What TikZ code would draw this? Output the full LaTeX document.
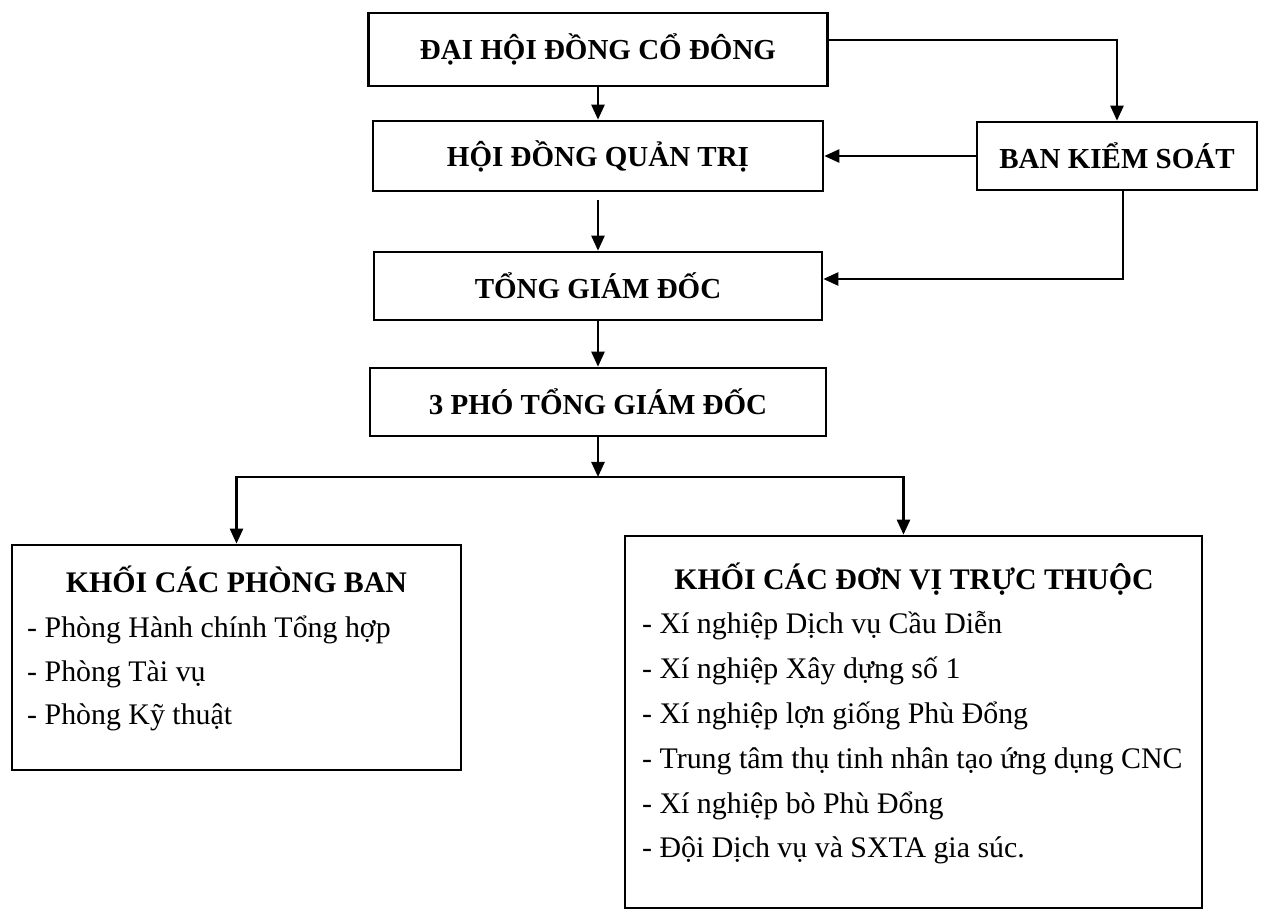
\documentclass[tikz,border=0pt]{standalone}
\usepackage{fontspec}
\setmainfont{Liberation Serif}
\usetikzlibrary{arrows.meta,positioning}

\tikzset{
  hop/.style={draw, line width=1.5pt, inner sep=0pt,
    font=\fontsize{16.5}{20}\selectfont\bfseries},
  khoi/.style={draw, line width=1.5pt, inner sep=0pt},
  tieude/.style={anchor=base, inner sep=0pt,
    font=\fontsize{17}{20}\selectfont\bfseries},
  muc/.style={anchor=base west, inner sep=0pt,
    font=\fontsize{17}{20}\selectfont},
}

\begin{document}
\begin{tikzpicture}[line width=1.4pt, >={Triangle[length=0.3cm,width=0.26cm]}]
    \useasboundingbox (0,0) rectangle (25.3,-18.22);
    % cac cap lanh dao
    \node[hop, minimum width=9.18cm, minimum height=1.46cm] (dhdcd) at (11.96,-0.99) {ĐẠI HỘI ĐỒNG CỔ ĐÔNG};
    \node[hop, minimum width=9.0cm, minimum height=1.4cm] (hdqt) at (11.96,-3.12) {HỘI ĐỒNG QUẢN TRỊ};
    \node[hop, minimum width=5.6cm, minimum height=1.36cm] (bks) at (22.34,-3.12) {BAN KIỂM SOÁT};
    \node[hop, minimum width=8.96cm, minimum height=1.36cm] (tgd) at (11.96,-5.72) {TỔNG GIÁM ĐỐC};
    \node[hop, minimum width=9.12cm, minimum height=1.36cm] (ptgd) at (11.96,-8.04) {3 PHÓ TỔNG GIÁM ĐỐC};
    \coordinate (nhanh) at (11.96,-9.54);
    % khoi cac phong ban
    \node[khoi, minimum width=8.98cm, minimum height=4.5cm] (kpb) at (4.73,-13.15) {};
    \node[tieude] (tdpb) at (4.73,-11.86) {KHỐI CÁC PHÒNG BAN};
    \foreach \ten [count=\i] in {- Phòng Hành chính Tổng hợp, - Phòng Tài vụ, - Phòng Kỹ thuật}
        \node[muc] (pb\i) at (0.52,{-12.76-0.87*(\i-1)}) {\ten};
    % khoi cac don vi truc thuoc
    \node[khoi, minimum width=11.54cm, minimum height=7.44cm] (kdv) at (18.27,-14.44) {};
    \node[tieude] (tddv) at (18.28,-11.8) {KHỐI CÁC ĐƠN VỊ TRỰC THUỘC};
    \foreach \ten [count=\i] in {- Xí nghiệp Dịch vụ Cầu Diễn, - Xí nghiệp Xây dựng số 1,
        - Xí nghiệp lợn giống Phù Đổng, - Trung tâm thụ tinh nhân tạo ứng dụng CNC,
        - Xí nghiệp bò Phù Đổng, - Đội Dịch vụ và SXTA gia súc.}
        \node[muc] (dv\i) at (12.82,{-12.66-0.9*(\i-1)}) {\ten};
    % mui ten
    \draw[->] (dhdcd) -- (hdqt);
    \draw[->] ([yshift=0.19cm]dhdcd.east) -| (bks);
    \draw[->] (bks) -- (hdqt);
    \draw[->] ([xshift=0.12cm]bks.south) |- ([yshift=0.14cm]tgd.east);
    \draw[->, shorten <=0.16cm] (hdqt) -- (tgd);
    \draw[->] (tgd) -- (ptgd);
    \draw[->] (ptgd) -- (nhanh);
    \draw[->] (nhanh) -| (kpb);
    \draw[->] (nhanh) -| ([xshift=-0.2cm]kdv.north);
\end{tikzpicture}
\end{document}
